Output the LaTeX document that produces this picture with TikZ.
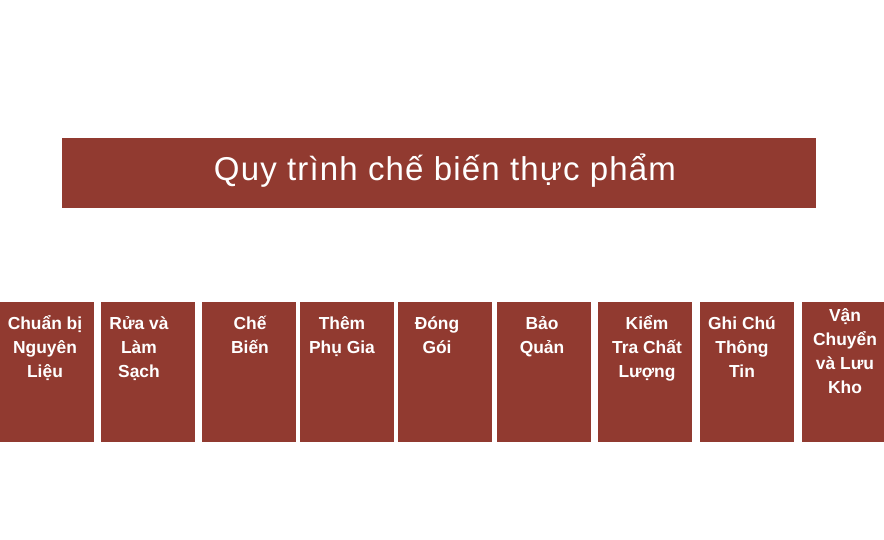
\documentclass[tikz,border=0pt]{standalone}
\usepackage{fontspec}
\setmainfont{Liberation Sans}
\newfontfamily\titlefont[LetterSpace=3.5]{Liberation Sans}
\usetikzlibrary{positioning}
\definecolor{brick}{HTML}{913A30}

\begin{document}
\begin{tikzpicture}[x=1pt,y=-1pt,
  title box/.style={fill=brick,minimum width=754pt,minimum height=70pt,inner sep=0pt},
  step box/.style={fill=brick,minimum width=94pt,minimum height=140pt,inner sep=0pt},
  step text/.style={anchor=north,inner sep=0pt,text=white,align=center,
    font=\fontsize{17.4pt}{24pt}\selectfont\bfseries}]
  \useasboundingbox (0,0) rectangle (884,540);

  % title
  \node[title box] (title) at (439,173) {};
  \node[text=white,font=\titlefont\fontsize{33pt}{38pt}\selectfont] (titletext) at (445,171) {Quy trình chế biến thực phẩm};

  % steps
  \node[step box] (s1) at (46.5,372) {};
  \node[step box] (s2) at (148,372) {};
  \node[step box] (s3) at (249,372) {};
  \node[step box] (s4) at (347,372) {};
  \node[step box] (s5) at (445,372) {};
  \node[step box] (s6) at (544,372) {};
  \node[step box] (s7) at (645,372) {};
  \node[step box] (s8) at (747,372) {};
  \node[step box] (s9) at (849,372) {};

  \node[step text] (t1) at (45,312.5) {\strut Chuẩn bị\\Nguyên\\Liệu};
  \node[step text] (t2) at (139,312.5) {\strut Rửa và\\Làm\\Sạch};
  \node[step text] (t3) at (250,312.5) {\strut Chế\\Biến};
  \node[step text] (t4) at (342,312.5) {\strut Thêm\\Phụ Gia};
  \node[step text] (t5) at (437,312.5) {\strut Đóng\\Gói};
  \node[step text] (t6) at (542,312.5) {\strut Bảo\\Quản};
  \node[step text] (t7) at (647,312.5) {\strut Kiểm\\Tra Chất\\Lượng};
  \node[step text] (t8) at (742,312.5) {\strut Ghi Chú\\Thông\\Tin};
  \node[step text] (t9) at (845,304.5) {\strut Vận\\Chuyển\\và Lưu\\Kho};
\end{tikzpicture}
\end{document}
